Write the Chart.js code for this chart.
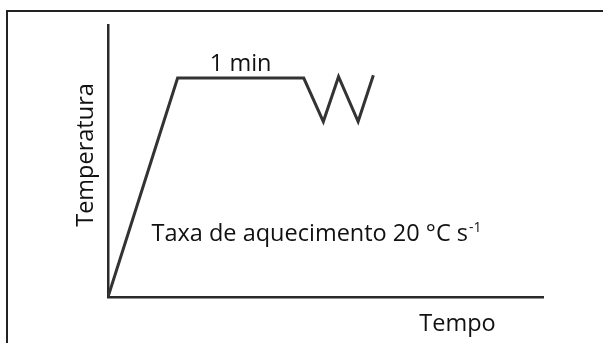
<!DOCTYPE html>
<html><head><meta charset="utf-8">
<script src="https://cdn.jsdelivr.net/npm/chart.js@4"></script>
<style>
html,body{margin:0;padding:0;background:#fff;overflow:hidden}
#wrap{position:relative;width:603px;height:343px;overflow:hidden}
#frame{position:absolute;left:6px;top:10px;width:640px;height:400px;border-top:2.5px solid #222;border-left:2.5px solid #222;box-sizing:border-box;pointer-events:none}
canvas{position:absolute;left:0;top:0}
</style></head><body>
<div id="wrap"><canvas id="c" width="603" height="343"></canvas><div id="frame"></div></div>
<script>
// Data (arbitrary units: time 0-100, temperature 0-100)
const tempo = [0, 16, 45, 49.5, 53, 57.5, 61];
const temperatura = [0, 80.5, 80.5, 64.5, 81, 64.5, 81.5];
const xTitle = 'Tempo';
const yTitle = 'Temperatura';
const plateauLabel = '1 min';
const rateLabel = 'Taxa de aquecimento 20 °C s';
const rateSup = '-1';

const FONT = '"Open Sans", sans-serif';
const INK = '#111';

const textPlugin = {
  id: 'texts',
  afterDraw(chart) {
    const {ctx, chartArea, scales: {x, y}} = chart;
    ctx.save();
    ctx.fillStyle = INK;
    ctx.textBaseline = 'alphabetic';
    const big = '500 23.5px ' + FONT;
    ctx.font = big;
    // plateau label
    ctx.textAlign = 'center';
    ctx.fillText(plateauLabel, x.getPixelForValue((tempo[1] + tempo[2]) / 2), y.getPixelForValue(temperatura[1]) - 7);
    // heating rate label
    ctx.textAlign = 'left';
    const lx = x.getPixelForValue(10), ly = y.getPixelForValue(20.6);
    ctx.fillText(rateLabel, lx, ly);
    const w = ctx.measureText(rateLabel).width;
    ctx.font = '500 14px ' + FONT;
    ctx.fillText(rateSup, lx + w + 1, ly - 9);
    // x title
    ctx.font = big;
    ctx.textAlign = 'center';
    ctx.fillText(xTitle, chartArea.right - 85.5, chartArea.bottom + 34);
    // y title
    ctx.translate(chartArea.left - 15, (chartArea.top + chartArea.bottom) / 2 - 6);
    ctx.rotate(-Math.PI / 2);
    ctx.fillText(yTitle, 0, 0);
    ctx.restore();
  }
};

new Chart(document.getElementById('c'), {
  type: 'line',
  data: {
    datasets: [{
      data: tempo.map((t, i) => ({x: t, y: temperatura[i]})),
      borderColor: '#333',
      borderWidth: 3,
      pointRadius: 0,
      tension: 0,
      fill: false
    }]
  },
  options: {
    responsive: false,
    animation: false,
    layout: {padding: {left: 108, right: 60, top: 25, bottom: 46}},
    plugins: {legend: {display: false}, tooltip: {enabled: false}},
    scales: {
      x: {
        type: 'linear', min: 0, max: 100,
        grid: {display: false, drawTicks: false},
        ticks: {display: false},
        border: {display: true, color: '#2a2a2a', width: 2.5}
      },
      y: {
        type: 'linear', min: 0, max: 100,
        grid: {display: false, drawTicks: false},
        ticks: {display: false},
        border: {display: true, color: '#2a2a2a', width: 2.5}
      }
    }
  },
  plugins: [textPlugin]
});
</script>
</body></html>
